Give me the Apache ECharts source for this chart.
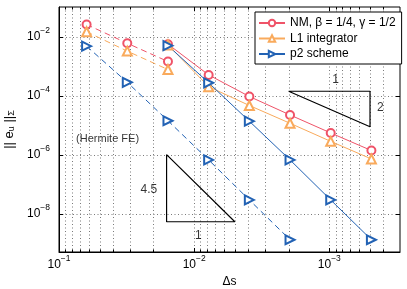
<!DOCTYPE html>
<html><head><meta charset="utf-8">
<script src="https://cdn.jsdelivr.net/npm/echarts@6/dist/echarts.min.js"></script>
<style>html,body{margin:0;padding:0;background:#fff}#c{width:407px;height:289px}</style>
</head><body><div id="c"></div>
<script>
// ---- data ----
const dsCoarse = [1/16, 1/32, 1/64];
const dsFine = [1/64, 1/128, 1/256, 1/512, 1/1024, 1/2048];
const dsP2Coarse = [1/16, 1/32, 1/64, 1/128, 1/256, 1/512];
const nmDashed = [2.55e-2, 5.9e-3, 1.42e-3];
const nmSolid = [5.5e-3, 5.0e-4, 9.3e-5, 2.2e-5, 5.4e-6, 1.37e-6];
const l1Dashed = [1.45e-2, 3.2e-3, 7.6e-4];
const l1Solid = [5.2e-3, 2.0e-4, 4.6e-5, 1.15e-5, 2.8e-6, 7.1e-7];
const p2Dashed = [4.7e-3, 2.8e-4, 1.4e-5, 6.6e-7, 2.9e-8, 1.3e-9];
const p2Solid = [4.9e-3, 2.7e-4, 1.35e-5, 6.6e-7, 2.9e-8, 1.3e-9];
const xTicks = [1e-1, 1e-2, 1e-3];
const yTicks = [1e-2, 1e-4, 1e-6, 1e-8];
const slope2Tri = [[2e-3, 1.4e-4], [5e-4, 1.4e-4], [5e-4, 8.75e-6], [2e-3, 1.4e-4]];
const slope45Tri = [[1.6e-2, 1e-6], [1.6e-2, 5.3e-9], [5e-3, 5.3e-9], [1.6e-2, 1e-6]];
const notes = [[9.0e-4, 3.5e-4, '1'], [4.2e-4, 3.9e-5, '2'], [2.16e-2, 6.4e-8, '4.5'], [9.3e-3, 1.8e-9, '1']];
const noteHermite = [[4.37e-2, 3.5e-6, '(Hermite FE)']];
const names = ['NM, β = 1/4, γ = 1/2', 'L1 integrator', 'p2 scheme'];

const X_MIN = 3e-4, X_MAX = 0.1, Y_MIN = 5e-10, Y_MAX = 0.1;
const RED = '#ef5368', ORANGE = '#f9aa5c', BLUE = '#2262b4';
const FONT = '"Liberation Sans", Arial, Helvetica, sans-serif';

const zip = (xs, ys) => xs.map((x, i) => [x, ys[i]]);

// grid value lists (tick positions)
const xGrid = [];
[-4, -3, -2].forEach(e => { for (let m = 1; m <= 9; m++) { const v = m * Math.pow(10, e); if (v > X_MIN * 1.0001 && v < X_MAX * 0.999) xGrid.push([v, 1e-5, m === 1 ? 1 : 0]); } });
const yGrid = yTicks.map(v => [1e-2, v]);

function powLabel(v) {
  const e = Math.log10(v), r = Math.round(e);
  if (Math.abs(e - r) > 1e-6) return '';
  return '{b|10}{s|' + (r < 0 ? '−' : '') + Math.abs(r) + '}';
}
const powRich = {
  b: { fontSize: 12, fontFamily: FONT, color: '#000', lineHeight: 13, verticalAlign: 'bottom' },
  s: { fontSize: 8.5, fontFamily: FONT, color: '#000', lineHeight: 9, padding: [0, 0, 8, 0], verticalAlign: 'bottom' }
};

function renderXGrid(params, api) {
  const cs = params.coordSys;
  const x = Math.round(api.coord([api.value(0), api.value(1)])[0]) + 0.5;
  const tl = api.value(2) ? 4 : 2.5;
  const b = cs.y + cs.height;
  return { type: 'group', children: [
    { type: 'line', shape: { x1: x, y1: cs.y, x2: x, y2: b }, style: { stroke: '#7a7a7a', lineWidth: 1, lineDash: [1, 2.5] } },
    { type: 'line', shape: { x1: x, y1: b, x2: x, y2: b - tl }, style: { stroke: '#000', lineWidth: 1 } },
    { type: 'line', shape: { x1: x, y1: cs.y, x2: x, y2: cs.y + tl }, style: { stroke: '#000', lineWidth: 1 } }
  ] };
}
function renderYGrid(params, api) {
  const cs = params.coordSys;
  const y = Math.round(api.coord([api.value(0), api.value(1)])[1]) + 0.5;
  const r = cs.x + cs.width;
  return { type: 'group', children: [
    { type: 'line', shape: { x1: cs.x, y1: y, x2: r, y2: y }, style: { stroke: '#7a7a7a', lineWidth: 1, lineDash: [1, 2.5] } },
    { type: 'line', shape: { x1: cs.x, y1: y, x2: cs.x + 4, y2: y }, style: { stroke: '#000', lineWidth: 1 } },
    { type: 'line', shape: { x1: r, y1: y, x2: r - 4, y2: y }, style: { stroke: '#000', lineWidth: 1 } }
  ] };
}

function lineSeries(name, data, color, symbol, dashed, extra) {
  return Object.assign({
    name, type: 'line', data, symbol, symbolSize: 8, showSymbol: true, z: 3,
    lineStyle: { color, width: 1, type: dashed ? [6, 4] : 'solid' },
    itemStyle: { color, borderColor: color, borderWidth: 1 },
    emphasis: { disabled: true }, animation: false
  }, extra || {});
}

const chart = echarts.init(document.getElementById('c'), null, { renderer: 'canvas' });
chart.setOption({
  animation: false,
  backgroundColor: '#fff',
  textStyle: { fontFamily: FONT },
  grid: { left: 59, right: 7, top: 7, bottom: 37, show: true, borderColor: '#000', borderWidth: 1, backgroundColor: 'transparent',
    containLabel: false, outerBoundsMode: 'none' },
  legend: {
    data: names, orient: 'vertical', left: 255, top: 12,
    padding: [4, 6, 3, 3], itemGap: 1.5, itemWidth: 26, itemHeight: 8,
    backgroundColor: '#fff', borderColor: '#000', borderWidth: 1, borderRadius: 0,
    textStyle: { fontSize: 12, color: '#000', fontFamily: FONT, lineHeight: 14 }, selectedMode: false
  },
  xAxis: {
    type: 'log', logBase: 10, min: X_MIN, max: X_MAX, inverse: true,
    name: 'Δs', nameLocation: 'middle', nameGap: 22,
    nameTextStyle: { fontSize: 12, color: '#000', fontFamily: FONT },
    axisLine: { lineStyle: { color: '#000', width: 1 } },
    axisTick: { show: false }, splitLine: { show: false }, minorTick: { show: false },
    axisLabel: { customValues: xTicks, formatter: powLabel, rich: powRich, margin: 6, align: 'center' }
  },
  yAxis: {
    type: 'log', logBase: 10, min: Y_MIN, max: Y_MAX,
    name: '{n||| e}{sub|u}{n| ||}{sub|Σ}', nameLocation: 'middle', nameGap: 37,
    nameTextStyle: { rich: {
      n: { fontSize: 13, fontFamily: FONT, color: '#000', lineHeight: 15, verticalAlign: 'bottom' },
      sub: { fontSize: 9, fontFamily: FONT, color: '#000', lineHeight: 9, padding: [8, 0, 0, 0], verticalAlign: 'bottom' }
    } },
    axisLine: { lineStyle: { color: '#000', width: 1 } },
    axisTick: { show: false }, splitLine: { show: false }, minorTick: { show: false },
    axisLabel: { customValues: yTicks, formatter: powLabel, rich: powRich, margin: 9 }
  },
  series: [
    { type: 'custom', name: 'xgrid', data: xGrid, renderItem: renderXGrid, encode: { x: 0, y: 1 }, z: 1, silent: true, clip: false, animation: false },
    { type: 'custom', name: 'ygrid', data: yGrid, renderItem: renderYGrid, encode: { x: 0, y: 1 }, z: 1, silent: true, clip: false, animation: false },
    lineSeries('tri2', slope2Tri, '#000', 'none', false, { lineStyle: { color: '#000', width: 1.2 }, z: 2 }),
    lineSeries('tri45', slope45Tri, '#000', 'none', false, { lineStyle: { color: '#000', width: 1.2 }, z: 2 }),
    lineSeries(names[0] + ' coarse', zip(dsCoarse, nmDashed), RED, 'emptyCircle', true),
    lineSeries(names[1] + ' coarse', zip(dsCoarse, l1Dashed), ORANGE, 'emptyTriangle', true, { symbolSize: 9 }),
    lineSeries(names[2] + ' coarse', zip(dsP2Coarse, p2Dashed), BLUE, 'emptyTriangle', true, { symbolSize: 9, symbolRotate: -90 }),
    lineSeries(names[0], zip(dsFine, nmSolid), RED, 'emptyCircle', false),
    lineSeries(names[1], zip(dsFine, l1Solid), ORANGE, 'emptyTriangle', false, { symbolSize: 9 }),
    lineSeries(names[2], zip(dsFine, p2Solid), BLUE, 'emptyTriangle', false, { symbolSize: 9, symbolRotate: -90 }),
    { type: 'scatter', name: 'notes', data: notes, symbolSize: 1, itemStyle: { color: 'transparent' }, z: 4, silent: true,
      label: { show: true, position: 'inside', formatter: p => p.data[2], fontSize: 12, color: '#000', fontFamily: FONT } },
    { type: 'scatter', name: 'hermite', data: noteHermite, symbolSize: 1, itemStyle: { color: 'transparent' }, z: 4, silent: true,
      label: { show: true, position: 'inside', formatter: p => p.data[2], fontSize: 11, color: '#000', fontFamily: FONT } }
  ]
});
</script></body></html>
